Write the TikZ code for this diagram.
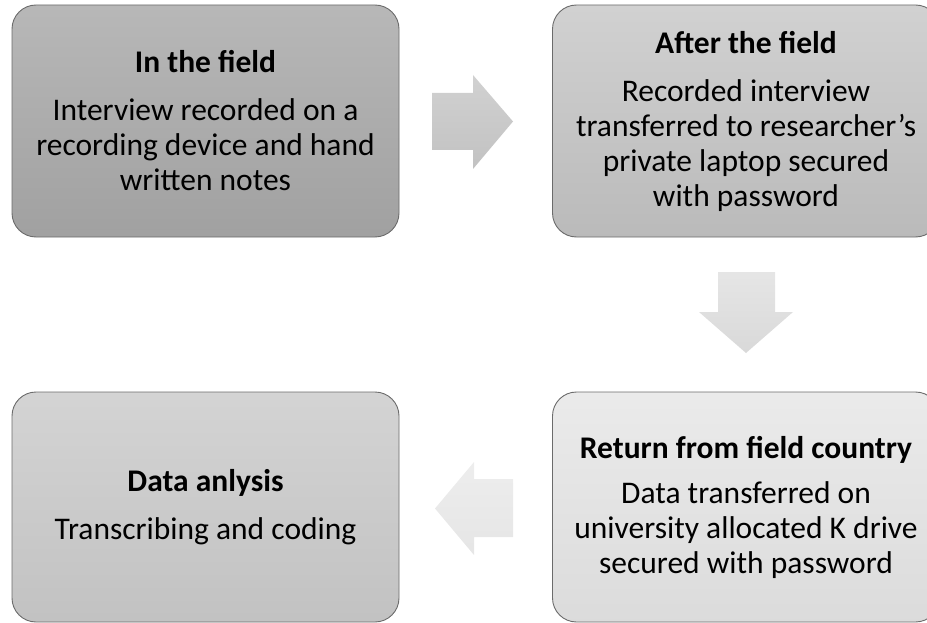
\documentclass[tikz,border=0pt]{standalone}
\usepackage{fontspec}
\setmainfont{Carlito}
\begin{document}
\begin{tikzpicture}[x=1pt,y=-1pt,
  stagebox/.style={rounded corners=24pt, draw=black!58, line width=0.9pt,
    minimum width=387pt, align=center, inner sep=0pt,
    font=\fontsize{31.5}{35}\selectfont},
  blockarrow/.style={draw=none}]
\useasboundingbox (0,0) rectangle (927,623);

% stage boxes
\node[stagebox, minimum height=232pt, top color=black!28, bottom color=black!37]
  (field) at (205.5,121)
  {\textbf{In the field}\\[13pt]Interview recorded on a\\recording device and hand\\written notes};
\node[stagebox, minimum height=232pt, top color=black!18, bottom color=black!27]
  (after) at (746,121)
  {\textbf{After the field}\\[13pt]Recorded interview\\transferred to researcher’s\\private laptop secured\\with password};
\node[stagebox, minimum height=230pt, top color=black!8, bottom color=black!14]
  (return) at (746,507)
  {\textbf{Return from field country}\\[10pt]Data transferred on\\university allocated K drive\\secured with password};
\node[stagebox, minimum height=230pt, top color=black!17, bottom color=black!24]
  (analysis) at (205.5,507)
  {\textbf{Data anlysis}\\[13pt]Transcribing and coding};

% block arrows between the stages
\path[blockarrow, top color=black!18, bottom color=black!24]
  (432,93) -- (473,93) -- (473,75) -- (513,121.5) -- (473,169) -- (473,150) -- (432,150) -- cycle;
\path[blockarrow, top color=black!10, bottom color=black!15]
  (718,272) -- (775,272) -- (775,312) -- (793,312) -- (746,353) -- (699,312) -- (718,312) -- cycle;
\path[blockarrow, top color=black!7, bottom color=black!10]
  (513,479) -- (474,479) -- (474,462) -- (435,508.5) -- (474,555) -- (474,537) -- (513,537) -- cycle;
\end{tikzpicture}
\end{document}
